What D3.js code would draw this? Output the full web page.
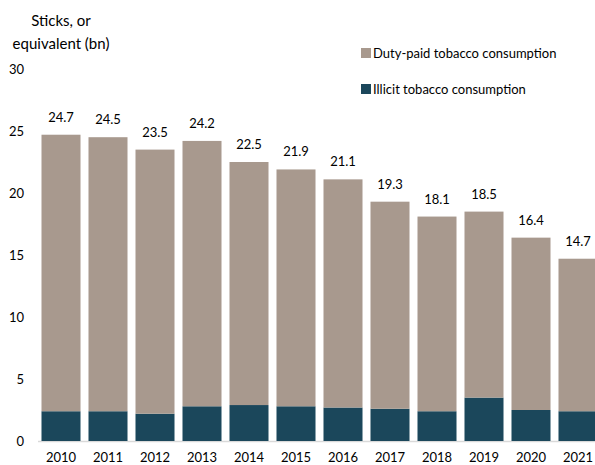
<!DOCTYPE html>
<html>
<head>
<meta charset="utf-8">
<script src="https://cdn.jsdelivr.net/npm/d3@7"></script>
<style>
  body { margin: 0; background: #fff; }
  svg text { font-family: Lato, "Open Sans", sans-serif; fill: #000; }
</style>
</head>
<body>
<svg id="chart" width="595" height="465"></svg>
<script>
// data
var years = ["2010", "2011", "2012", "2013", "2014", "2015", "2016", "2017", "2018", "2019", "2020", "2021"];
var illicit = [2.4, 2.4, 2.2, 2.8, 2.9, 2.8, 2.7, 2.6, 2.4, 3.5, 2.5, 2.4];
var dutyPaid = [22.3, 22.1, 21.3, 21.4, 19.6, 19.1, 18.4, 16.7, 15.7, 15.0, 13.9, 12.3];
var yTicks = [0, 5, 10, 15, 20, 25, 30];

var colDuty = "#a8998e",
   colIllicit = "#1b475b";

var svg = d3.select("svg#chart");

var x = d3.scaleBand().domain(years).range([37.5, 601.5]).paddingInner(0.17).paddingOuter(0.085);
var y = d3.scaleLinear().domain([0, 30]).range([441, 69]);

// stacked rows
var rows = years.map(function (yr, i) {
   return { year: yr, illicit: illicit[i], duty: dutyPaid[i] };
});
var stack = d3.stack().keys(["illicit", "duty"]);
var series = stack(rows);
var colors = { illicit: colIllicit, duty: colDuty };

// baseline
svg.append("line")
   .attr("x1", 38).attr("x2", 595)
   .attr("y1", y(0) + 0.5).attr("y2", y(0) + 0.5)
   .attr("stroke", "#d9d9d9").attr("stroke-width", 1.5);

svg.selectAll("g.series")
   .data(series)
   .enter()
   .append("g")
   .attr("class", "series")
   .attr("fill", function (d) { return colors[d.key]; })
   .selectAll("rect")
   .data(function (d) { return d; })
   .enter()
   .append("rect")
   .attr("x", function (d) { return x(d.data.year); })
   .attr("width", x.bandwidth())
   .attr("y", function (d) { return y(d[1]); })
   .attr("height", function (d) { return y(d[0]) - y(d[1]); });

// totals on top
svg.selectAll("text.total")
   .data(rows)
   .enter()
   .append("text")
   .attr("class", "total")
   .attr("x", function (d) { return x(d.year) + x.bandwidth() / 2; })
   .attr("y", function (d) { return y(d.illicit + d.duty) - 13; })
   .attr("text-anchor", "middle")
   .attr("font-size", 13)
   .text(function (d) { return d3.format(".1f")(d.illicit + d.duty); });

// y axis labels (no line)
svg.selectAll("text.ytick")
   .data(yTicks)
   .enter()
   .append("text")
   .attr("class", "ytick")
   .attr("x", 24)
   .attr("y", function (d) { return y(d); })
   .attr("dy", "0.35em")
   .attr("text-anchor", "end")
   .attr("font-size", 13)
   .text(function (d) { return d; });

// x axis labels
svg.selectAll("text.xtick")
   .data(years)
   .enter()
   .append("text")
   .attr("class", "xtick")
   .attr("x", function (d) { return x(d) + x.bandwidth() / 2; })
   .attr("y", 457)
   .attr("dy", "0.35em")
   .attr("text-anchor", "middle")
   .attr("font-size", 13)
   .text(function (d) { return d; });

// axis title
svg.append("text")
   .attr("x", 61).attr("y", 26)
   .attr("text-anchor", "middle")
   .attr("font-size", 15)
   .text("Sticks, or");
svg.append("text")
   .attr("x", 61).attr("y", 49)
   .attr("text-anchor", "middle")
   .attr("font-size", 15)
   .text("equivalent (bn)");

// legend
var legend = [
   { label: "Duty-paid tobacco consumption", color: colDuty, y: 53 },
   { label: "Illicit tobacco consumption", color: colIllicit, y: 89 },
];
var lg = svg.selectAll("g.legend")
   .data(legend)
   .enter()
   .append("g")
   .attr("class", "legend")
   .attr("transform", function (d) { return "translate(361," + d.y + ")"; });
lg.append("rect")
   .attr("x", 0).attr("y", -5)
   .attr("width", 10).attr("height", 10)
   .attr("fill", function (d) { return d.color; });
lg.append("text")
   .attr("x", 12)
   .attr("dy", "0.35em")
   .attr("font-size", 13)
   .text(function (d) { return d.label; });
</script>
</body>
</html>
